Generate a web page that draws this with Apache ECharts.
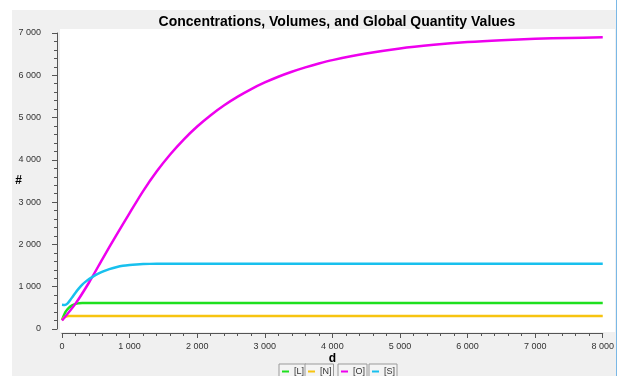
<!DOCTYPE html>
<html>
<head>
<meta charset="utf-8">
<script src="https://cdn.jsdelivr.net/npm/echarts@6/dist/echarts.min.js"></script>
<style>html,body{margin:0;padding:0;background:#fff}#c{width:617px;height:376px}</style>
</head>
<body>
<div id="c"></div>
<script>
// ---- data ----
var seriesNames = ['[L]', '[N]', '[O]', '[S]'];
var lX = [0, 50, 100, 150, 200, 250, 300, 400, 600, 1000, 8000];
var lY = [210, 400, 500, 560, 595, 607, 612, 615, 615, 615, 615];
var nX = [0, 25, 50, 75, 100, 150, 8000];
var nY = [210, 265, 290, 300, 305, 305, 305];
var oX = [0, 200, 400, 600, 800, 1000, 1200, 1400, 1600, 1800, 2000, 2200, 2400, 2600, 2800, 3000, 3200, 3400, 3600, 3800, 4000, 4500, 5000, 5500, 6000, 6500, 7000, 7500, 8000];
var oY = [200, 600, 1100, 1660, 2210, 2740, 3262, 3725, 4127, 4480, 4788, 5056, 5291, 5495, 5674, 5830, 5966, 6084, 6188, 6279, 6358, 6514, 6635, 6720, 6785, 6830, 6862, 6882, 6898];
var sX = [0, 40, 80, 120, 160, 200, 250, 300, 350, 400, 500, 600, 700, 800, 900, 1000, 1100, 1200, 1400, 1600, 8000];
var sY = [575, 570, 600, 680, 770, 860, 960, 1050, 1120, 1180, 1280, 1355, 1415, 1460, 1495, 1515, 1528, 1536, 1543, 1545, 1545];
var yTicks = [0, 1000, 2000, 3000, 4000, 5000, 6000, 7000];
var xTicks = [0, 1000, 2000, 3000, 4000, 5000, 6000, 7000, 8000];

var colors = ['#1ee01e', '#f7c410', '#ee00ee', '#18c0ee'];
function pairs(xs, ys) { return xs.map(function (x, i) { return [x, ys[i]]; }); }
function fmt(v) { return String(v).replace(/\B(?=(\d{3})+(?!\d))/g, ' '); }

var dataSets = [pairs(lX, lY), pairs(nX, nY), pairs(oX, oY), pairs(sX, sY)];
var F = 'Liberation Sans';

var legendLefts = [279, 305, 338, 369];
var legends = seriesNames.map(function (n, i) {
  return {
    data: [n], left: legendLefts[i], top: 364, orient: 'horizontal',
    selectedMode: false, icon: 'rect', itemWidth: 7, itemHeight: 2,
    padding: [3, 2, 6, 3], borderColor: '#9a9a9a', borderWidth: 1,
    backgroundColor: '#f4f4f4',
    textStyle: { fontFamily: F, fontSize: 9, color: '#333' }
  };
});

var chart = echarts.init(document.getElementById('c'), null, { renderer: 'canvas' });
chart.setOption({
  animation: false,
  backgroundColor: '#ffffff',
  color: colors,
  title: {
    text: 'Concentrations, Volumes, and Global Quantity Values',
    left: 332, top: 10, textAlign: 'center',
    textStyle: { fontFamily: F, fontSize: 14, fontWeight: 'bold', color: '#000' }
  },
  graphic: [
    { type: 'rect', z: -10, shape: { x: 12, y: 10, width: 605, height: 366 }, style: { fill: '#f0f0f0' }, silent: true },
    { type: 'rect', z: -9, shape: { x: 60, y: 29, width: 555, height: 303 }, style: { fill: '#ffffff' }, silent: true },
    { type: 'rect', z: -9, shape: { x: 616, y: 0, width: 1, height: 376 }, style: { fill: '#7ab8e6' }, silent: true }
  ],
  legend: legends,
  grid: { left: 62, right: 11, top: 33, bottom: 47, containLabel: false },
  xAxis: {
    type: 'value', min: xTicks[0], max: xTicks[xTicks.length - 1], interval: 1000,
    offset: 4,
    name: 'd', nameLocation: 'middle', nameGap: 20, nameMoveOverlap: false,
    nameTextStyle: { fontFamily: F, fontSize: 12, fontWeight: 'bold', color: '#000' },
    axisLine: { show: true, onZero: false, lineStyle: { color: '#555', width: 1 } },
    axisTick: { show: true, length: 5, lineStyle: { color: '#555' } },
    minorTick: { show: true, splitNumber: 5, length: 3, lineStyle: { color: '#555' } },
    splitLine: { show: false },
    axisLabel: { margin: 9, fontFamily: F, fontSize: 9, color: '#333', formatter: fmt, showMaxLabel: true, showMinLabel: true }
  },
  yAxis: {
    type: 'value', min: yTicks[0], max: yTicks[yTicks.length - 1], interval: 1000,
    offset: 5,
    name: '#', nameLocation: 'middle', nameGap: 35, nameRotate: 0, nameMoveOverlap: false,
    nameTextStyle: { fontFamily: F, fontSize: 12, fontWeight: 'bold', color: '#000' },
    axisLine: { show: true, onZero: false, lineStyle: { color: '#555', width: 1 } },
    axisTick: { show: true, length: 5, lineStyle: { color: '#555' } },
    minorTick: { show: true, splitNumber: 5, length: 3, lineStyle: { color: '#555' } },
    splitLine: { show: false },
    axisLabel: { margin: 16, fontFamily: F, fontSize: 9, color: '#333', formatter: fmt }
  },
  series: seriesNames.map(function (n, i) {
    return {
      name: n, type: 'line', data: dataSets[i], showSymbol: false, symbol: 'none',
      smooth: 0.3, lineStyle: { width: 2.5, color: colors[i] }, itemStyle: { color: colors[i] },
      clip: false
    };
  })
});
</script>
</body>
</html>
